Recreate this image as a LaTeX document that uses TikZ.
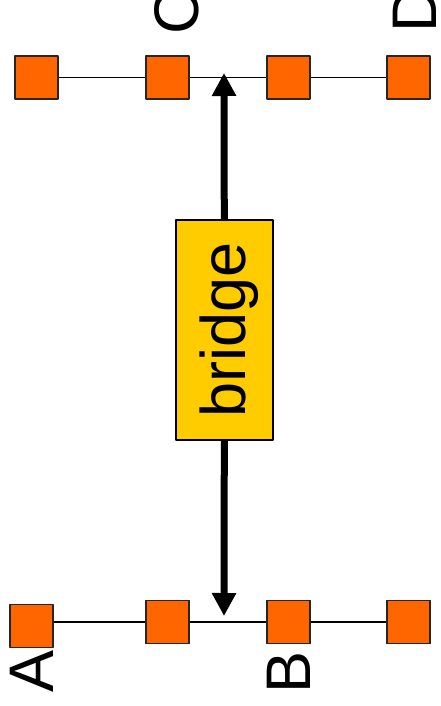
\documentclass[tikz,border=0pt]{standalone}
\usepackage{fontspec}
\setmainfont{Liberation Sans}
\usetikzlibrary{arrows.meta}
\definecolor{sqorange}{HTML}{FF6600}
\definecolor{bryellow}{HTML}{FFCC00}
\begin{document}
\begin{tikzpicture}[x=1pt, y=-1pt, line join=round,
		sq/.style={draw=black!85, fill=sqorange, line width=1.5pt, minimum size=43pt, inner sep=0pt},
		lbl/.style={rotate=90, inner sep=0pt, font=\fontsize{63}{63}\selectfont},
		>={Triangle[length=23pt,width=23pt]}]
	\useasboundingbox (0,0) rectangle (440,706);
	% upper row
	\draw[line width=1.3pt] (36.5,77.5)--(408.5,77.5);
	\foreach \n/\x in {c1/36.5,C/167.5,c3/288.5,D/408.5}
	\node[sq] (\n) at (\x,77.5) {};
	% lower row
	\foreach \n/\x/\y in {A/31.5/626,b2/167.5/622,B/288.5/622,b4/408.5/622}
	\node[sq] (\n) at (\x,\y) {};
	\draw[line width=1.3pt] (A.east |- b2)--(b2) (b2)--(B) (B)--(b4);
	\foreach \n in {b2,B,b4}
	\node[sq] at (\n) {};
	% labels
	\node[lbl] (la) at (32,671) {A};
	\node[lbl] (lb) at (289,672) {B};
	\node[lbl] (lc) at (177,12) {C};
	\node[lbl] (ld) at (415,10) {D};
	% bridge
	\coordinate (up) at (224,73);
	\coordinate (down) at (224,616);
	\node[rotate=90, draw, fill=bryellow, line width=1.5pt, minimum width=220pt, minimum height=97pt,
		inner sep=0pt, font=\fontsize{63}{63}\selectfont] (bridge) at (224.5,330) {\raisebox{-5pt}[\height][\depth]{bridge}};
	\draw[->, line width=7pt] (bridge)--(up);
	\draw[->, line width=7pt] (bridge)--(down);
\end{tikzpicture}
\end{document}
